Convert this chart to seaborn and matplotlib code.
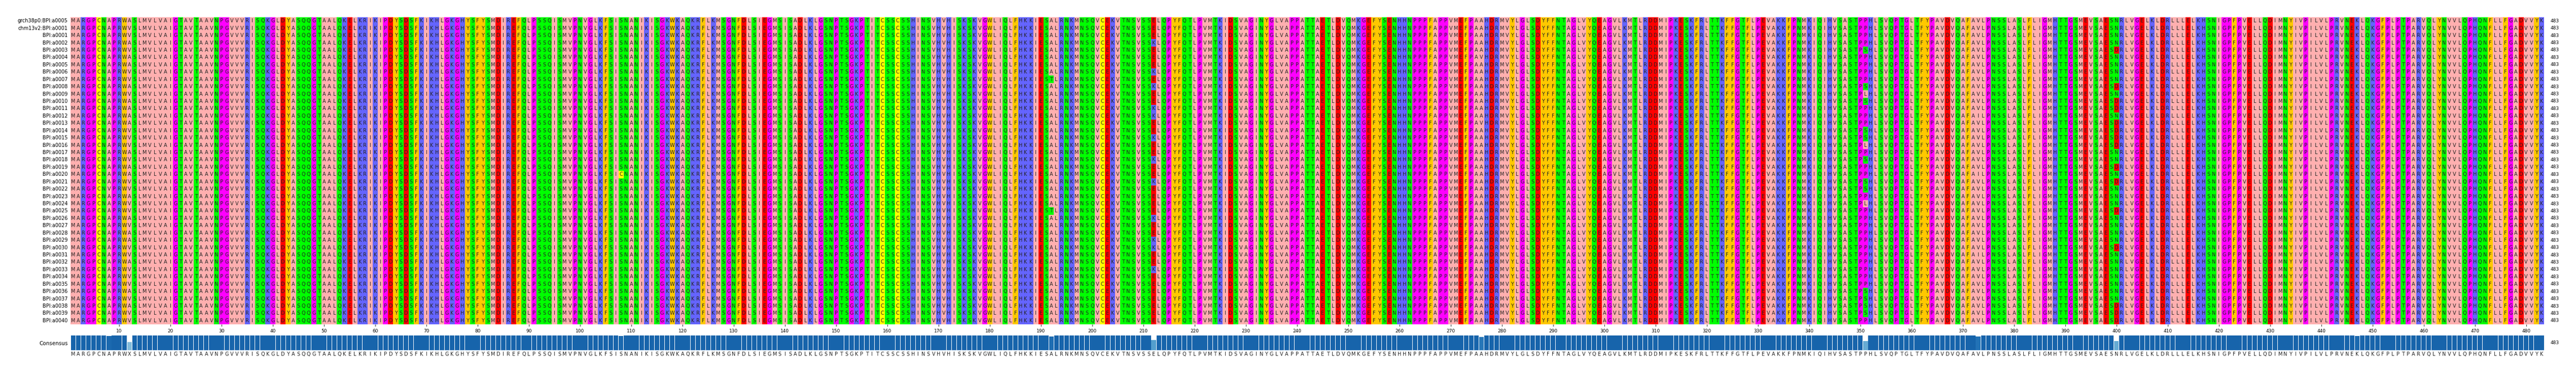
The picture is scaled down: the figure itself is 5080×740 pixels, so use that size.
import numpy as np
import seaborn as sns
import matplotlib.pyplot as plt
from matplotlib.colors import ListedColormap
from collections import Counter

# reference protein (consensus backbone)
seq = ("MARGPCNAPRWVSLMVLVAIGTAVTAAVNPGVVVRISQKGLDYASQQGTAALQKELKRIKIPDYSDSFKIK"
       "HLGKGHYSFYSMDIREFQLPSSQISMVPNVGLKFSISNANIKISGKWKAQKRFLKMSGNFDLSIEGMSIS"
       "ADLKLGSNPTSGKPTITCSSCSSHINSVHVHISKSKVGWLIQLFHKKIESALRNKMNSQVCEKVTNSVSSE"
       "LQPYFQTLPVMTKIDSVAGINYGLVAPPATTAETLDVQMKGEFYSENHHNPPPFAPPVMEFPAAHDRMVY"
       "LGLSDYFFNTAGLVYQEAGVLKMTLRDDMIPKESKFRLTTKFFGTFLPEVAKKFPNMKIQIHVSASTPPHL"
       "SVQPTGLTFYPAVDVQAFAVLPNSSLASLFLIGMHTTGSMEVSAESNRLVGELKLDRLLLELKHSNIGPF"
       "PVELLQDIMNYIVPILVLPRVNEKLQKGFPLPTPARVQLYNVVLQPHQNFLLFGADVVYK")

row_names = ["grch38p0:BPI:a0005", "chm13v2:BPI:a0001"] + [f"BPI:a{i:04d}" for i in range(1, 41)]

# variant sites: (motif, offset in motif, alternative residue, rows (1-based) carrying it)
variants = [
    ("PRWVS", 3, "A", [1, 4, 6, 7, 10, 12, 13, 14, 15, 19, 21, 22, 25, 28, 30, 31, 34, 38, 40]),
    ("NAPRW", 1, "V", [24]),
    ("IESAL", 3, "T", [9, 27]),
    ("SVSSEL", 4, "K", [4, 8, 10, 13, 14, 17, 20, 23, 28, 31, 32, 35]),
    ("PAAHD", 2, "V", [6, 15, 29, 36]),
    ("STPPHL", 3, "L", [11, 18, 26]),
    ("PPHLSV", 1, "S", [5, 10, 12, 16, 17, 20, 23, 24, 38, 39, 40, 41]),
    ("AFAVLP", 3, "I", [14, 22, 33]),
    ("ESNRL", 2, "D", [5, 10, 12, 13, 15, 16, 17, 18, 21, 23, 27, 32, 40, 41, 42]),
    ("VNEKL", 3, "R", [16]),
    ("FSISNA", 3, "C", [22]),
]

groups = {"AILMV": 0, "FWY": 1, "RKH": 2, "DE": 3, "STNQ": 4, "GP": 5, "C": 6}
colors = ["#ffafaf", "#ffc800", "#6464ff", "#ff0000", "#00ff00", "#ff00ff", "#ffff00"]

ncol = len(seq)
nrow = len(row_names)
letters = np.array([list(seq) for _ in range(nrow)])
for motif, off, alt, rows in variants:
    col = seq.find(motif) + off
    for r in rows:
        letters[r - 1, col] = alt

lookup = {aa: g for k, g in groups.items() for aa in k}
codes = np.vectorize(lookup.get)(letters)

# consensus + conservation
cons, frac = [], []
for j in range(ncol):
    aa, n = Counter(letters[:, j]).most_common(1)[0]
    f = n / nrow
    frac.append(f)
    cons.append(aa if f >= 0.6 else "X")
frac = np.array(frac)

fig = plt.figure(figsize=(50.8, 7.4), dpi=100)
ax = fig.add_axes([0.0274, 0.135, 0.9602, 0.819])
sns.heatmap(codes, cmap=ListedColormap(colors), vmin=-0.5, vmax=6.5, cbar=False,
            annot=letters, fmt="", annot_kws={"size": 7, "color": "#222222"},
            xticklabels=False, yticklabels=row_names, ax=ax)
ax.set_yticklabels(row_names, rotation=0, fontsize=7)
ax.tick_params(axis="y", length=0, pad=4)
ticks = np.arange(10, ncol + 1, 10)
ax.set_xticks(ticks - 0.5)
ax.set_xticklabels([str(t) for t in ticks], fontsize=6.5)
ax.tick_params(axis="x", length=3, width=0.6)
for r in range(nrow):
    ax.text(ncol + 1.2, r + 0.5, str(ncol), va="center", ha="left", fontsize=6.5)

ax2 = fig.add_axes([0.0274, 0.066, 0.9602, 0.039])
ax2.bar(np.arange(ncol), frac, width=0.92, color=plt.cm.Blues(0.8 * frac), linewidth=0)
ax2.set_xlim(-0.5, ncol - 0.5)
ax2.set_ylim(0, 1)
ax2.set_xticks([])
ax2.set_yticks([0.5])
ax2.set_yticklabels(["Consensus"], fontsize=7.5)
ax2.tick_params(axis="y", length=0, pad=4)
for s in ax2.spines.values():
    s.set_visible(False)
for j, c in enumerate(cons):
    ax2.text(j, -0.28, c, ha="center", va="center", fontsize=7, color="#222222", clip_on=False)
ax2.text(ncol + 0.7, 0.5, str(ncol), va="center", ha="left", fontsize=6.5)

fig.savefig("out.png", dpi=100)
